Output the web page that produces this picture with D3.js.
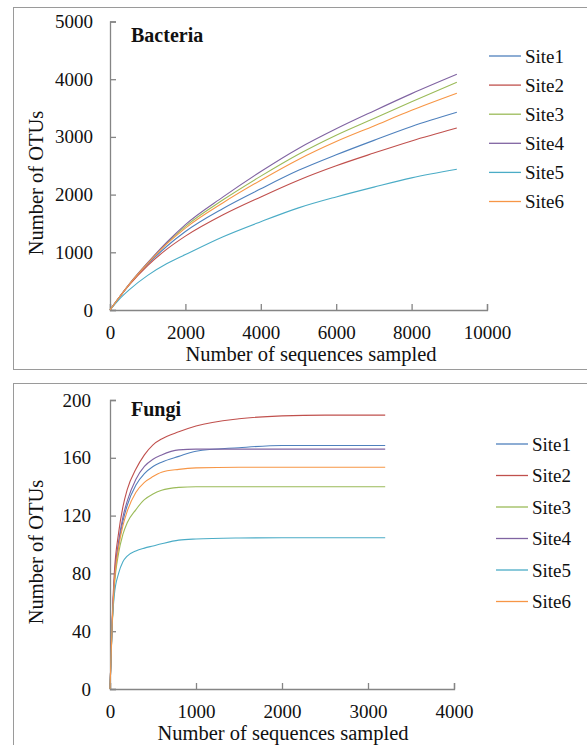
<!DOCTYPE html>
<html>
<head>
<meta charset="utf-8">
<script src="https://cdn.jsdelivr.net/npm/d3@7"></script>
<style>
  body { margin: 0; background: #fff; }
  svg { display: block; }
  svg text { font-family: "Liberation Serif", Tinos, "Times New Roman", Times, "DejaVu Serif", "Noto Serif", serif; fill: #111; }
</style>
</head>
<body>
<svg id="chart" width="587" height="745"></svg>
<script>
// ---- data ----
const siteNames = ["Site1", "Site2", "Site3", "Site4", "Site5", "Site6"];
const siteColors = ["#4f81bd", "#c0504d", "#9bbb59", "#8064a2", "#4bacc6", "#f79646"];

// Bacteria rarefaction
const bacteriaSeq = [0, 250, 500, 1000, 1500, 2000, 3000, 4000, 5000, 6000, 7000, 8000, 9200];
const bacteriaSite1 = [0, 222, 430, 790, 1100, 1360, 1760, 2100, 2420, 2690, 2940, 3180, 3426];
const bacteriaSite2 = [0, 220, 425, 770, 1050, 1280, 1650, 1960, 2250, 2500, 2720, 2930, 3154];
const bacteriaSite3 = [0, 225, 438, 815, 1155, 1450, 1910, 2320, 2700, 3030, 3320, 3610, 3946];
const bacteriaSite4 = [0, 225, 440, 820, 1170, 1480, 1960, 2400, 2800, 3140, 3450, 3750, 4085];
const bacteriaSite5 = [0, 190, 345, 600, 800, 960, 1270, 1530, 1770, 1960, 2130, 2290, 2438];
const bacteriaSite6 = [0, 224, 435, 808, 1140, 1420, 1860, 2250, 2610, 2920, 3190, 3460, 3755];
const bacteriaXTicks = [0, 2000, 4000, 6000, 8000, 10000];
const bacteriaYTicks = [0, 1000, 2000, 3000, 4000, 5000];

// Fungi rarefaction
const fungiSeq = [0, 25, 50, 100, 150, 200, 300, 400, 500, 600, 800, 1000, 1500, 2000, 2500, 3200];
const fungiSite1 = [0, 45, 74, 100, 116, 127, 141, 149, 154, 157, 161, 164.5, 167, 168.5, 168.5, 168.5];
const fungiSite2 = [0, 48, 80, 108, 126, 138, 152, 162, 169, 173, 178, 182, 187, 189, 189.5, 189.5];
const fungiSite3 = [0, 43, 70, 94, 107, 115, 124, 131, 135, 137.5, 139.5, 140, 140, 140, 140, 140];
const fungiSite4 = [0, 45, 75, 102, 119, 130, 145, 154, 159, 162, 165.5, 166, 166, 166, 166, 166];
const fungiSite5 = [0, 45, 65, 80, 88, 92, 95.5, 97.5, 99, 100.5, 103, 103.8, 104.5, 104.7, 104.7, 104.7];
const fungiSite6 = [0, 45, 73, 98, 113, 123, 136, 143, 147, 150, 152, 153, 153.5, 153.5, 153.5, 153.5];
const fungiXTicks = [0, 1000, 2000, 3000, 4000];
const fungiYTicks = [0, 40, 80, 120, 160, 200];

const serif = '"Liberation Serif", Tinos, "Times New Roman", Times, "DejaVu Serif", "Noto Serif", serif';
const svg = d3.select("#chart");

function drawPanel(p) {
    // panel frame (runs off the right / bottom like the source)
    svg.append("rect")
        .attr("x", 13.5).attr("y", p.boxTop + 0.5)
        .attr("width", 600).attr("height", p.boxHeight)
        .attr("fill", "none")
        .attr("stroke", "#9a9a9a")
        .attr("stroke-width", 1);

    const x = d3.scaleLinear().domain(p.xDomain).range([p.left, p.right]);
    const y = d3.scaleLinear().domain(p.yDomain).range([p.bottom, p.top]);

    const xAxis = svg.append("g")
        .attr("transform", `translate(0,${p.bottom})`)
        .call(d3.axisBottom(x).tickValues(p.xTicks).tickFormat(d3.format("d")).tickSize(-6).tickPadding(16));
    const yAxis = svg.append("g")
        .attr("transform", `translate(${p.left},0)`)
        .call(d3.axisLeft(y).tickValues(p.yTicks).tickFormat(d3.format("d")).tickSize(-6).tickPadding(p.yPad));

    [xAxis, yAxis].forEach(a => {
        a.attr("font-family", null).attr("font-size", null);
        a.selectAll("path, line").attr("stroke", "#858585").attr("stroke-width", 1.3);
        a.selectAll("text")
            .style("font-family", serif)
            .style("font-size", "19px")
            .attr("fill", "#111");
    });

    const line = d3.line()
        .x((d, i) => x(p.seq[i]))
        .y(d => y(d))
        .curve(d3.curveMonotoneX);

    p.series.forEach((s, i) => {
        svg.append("path")
            .datum(s)
            .attr("d", line)
            .attr("fill", "none")
            .attr("stroke", siteColors[i])
            .attr("stroke-width", 1.1);
    });

    // title inside plot
    svg.append("text")
        .attr("x", 131).attr("y", p.titleY)
        .style("font-family", serif)
        .style("font-size", "20px")
        .style("font-weight", "bold")
        .text(p.title);

    // axis titles
    svg.append("text")
        .attr("x", p.xLabelX).attr("y", p.bottom + 51)
        .attr("text-anchor", "middle")
        .style("font-family", serif)
        .style("font-size", "20.5px")
        .text("Number of sequences sampled");
    svg.append("text")
        .attr("transform", `translate(43,${p.yLabelY}) rotate(-90)`)
        .attr("text-anchor", "middle")
        .style("font-family", serif)
        .style("font-size", "20.5px")
        .text("Number of OTUs");

    // legend
    const lg = svg.append("g");
    siteNames.forEach((name, i) => {
        const ly = p.legendY + i * p.legendStep;
        lg.append("line")
            .attr("x1", p.legendX).attr("x2", p.legendX + 32)
            .attr("y1", ly).attr("y2", ly)
            .attr("stroke", siteColors[i])
            .attr("stroke-width", 1.3);
        lg.append("text")
            .attr("x", p.legendX + 36).attr("y", ly)
            .attr("dy", "0.35em")
            .style("font-family", serif)
            .style("font-size", "19px")
            .text(name);
    });
}

drawPanel({
    title: "Bacteria", titleY: 42,
    boxTop: 7, boxHeight: 362,
    left: 110, right: 487, top: 21.5, bottom: 310,
    xDomain: [0, 10000], yDomain: [0, 5000],
    xTicks: bacteriaXTicks, yTicks: bacteriaYTicks, yPad: 17,
    seq: bacteriaSeq,
    series: [bacteriaSite1, bacteriaSite2, bacteriaSite3, bacteriaSite4, bacteriaSite5, bacteriaSite6],
    xLabelX: 311, yLabelY: 183,
    legendX: 489, legendY: 56, legendStep: 29.1
});

drawPanel({
    title: "Fungi", titleY: 416,
    boxTop: 383, boxHeight: 400,
    left: 110, right: 454, top: 400, bottom: 689,
    xDomain: [0, 4000], yDomain: [0, 200],
    xTicks: fungiXTicks, yTicks: fungiYTicks, yPad: 19,
    seq: fungiSeq,
    series: [fungiSite1, fungiSite2, fungiSite3, fungiSite4, fungiSite5, fungiSite6],
    xLabelX: 283, yLabelY: 552,
    legendX: 496, legendY: 444, legendStep: 31.5
});
</script>
</body>
</html>
